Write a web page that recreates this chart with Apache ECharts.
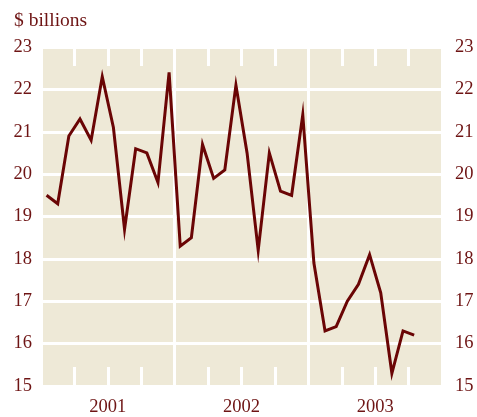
<!DOCTYPE html>
<html>
<head>
<meta charset="utf-8">
<script src="https://cdn.jsdelivr.net/npm/echarts@6/dist/echarts.min.js"></script>
<style>
  html, body { margin: 0; padding: 0; background: #fff; }
  #chart { width: 477px; height: 417px; }
</style>
</head>
<body>
<div id="chart"></div>
<script>
// monthly values, Jan 2001 .. Oct 2003
const values = [
  19.5, 19.3, 20.9, 21.3, 20.8, 22.3, 21.1, 18.7, 20.6, 20.5, 19.8, 22.4,
  18.3, 18.5, 20.7, 19.9, 20.1, 22.1, 20.5, 18.2, 20.5, 19.6, 19.5, 21.4,
  17.9, 16.3, 16.4, 17.0, 17.4, 18.1, 17.2, 15.3, 16.3, 16.2
];
const years = ["2001", "2002", "2003"];
const yMin = 15;
const yMax = 23;

const textColor = "#6e1414";
const lineColor = "#6a0505";
const font = "Liberation Serif";

// point at middle of each month on a 0..36 month axis
const points = values.map((v, i) => [i + 0.5, v]);

const chart = echarts.init(document.getElementById("chart"));

const xBase = {
  type: "value",
  min: 0,
  max: 36,
  interval: 3,
  axisLine: { show: false },
  axisTick: {
    show: true,
    inside: true,
    length: 19,
    lineStyle: { color: "#fff", width: 3 },
  },
};

const option = {
  animation: false,
  title: {
    text: "$ billions",
    left: 9,
    top: 6,
    textStyle: { color: textColor, fontFamily: font, fontSize: 19.5, fontWeight: "normal" },
  },
  grid: {
    left: 41,
    right: 35,
    top: 47,
    bottom: 30,
    show: true,
    backgroundColor: "#eee9d7",
    borderWidth: 0,
  },
  xAxis: [
    Object.assign({}, xBase, {
      position: "bottom",
      axisLabel: {
        color: textColor,
        fontFamily: font,
        fontSize: 18.5,
        margin: 12,
        formatter: (v) => {
          const idx = (v - 6) / 12;
          return Number.isInteger(idx) && years[idx] ? years[idx] : "";
        },
      },
      splitLine: {
        show: true,
        lineStyle: {
          color: ["#fff", "rgba(0,0,0,0)", "rgba(0,0,0,0)", "rgba(0,0,0,0)"],
          width: 3,
        },
      },
    }),
    Object.assign({}, xBase, {
      position: "top",
      axisLabel: { show: false },
      splitLine: { show: false },
    }),
  ],
  yAxis: [
    {
      type: "value",
      position: "left",
      min: yMin,
      max: yMax,
      interval: 1,
      axisLine: { show: false },
      axisTick: { show: false },
      axisLabel: { color: textColor, fontFamily: font, fontSize: 18.5, margin: 9 },
      splitLine: { show: true, lineStyle: { color: "#fff", width: 3 } },
    },
    {
      type: "value",
      position: "right",
      min: yMin,
      max: yMax,
      interval: 1,
      axisLine: { show: false },
      axisTick: { show: false },
      axisLabel: { color: textColor, fontFamily: font, fontSize: 18.5, margin: 13 },
      splitLine: { show: false },
    },
  ],
  series: [
    {
      type: "line",
      data: points,
      showSymbol: false,
      symbol: "none",
      lineStyle: { color: lineColor, width: 3, join: "miter" },
    },
  ],
};

chart.setOption(option);
</script>
</body>
</html>
